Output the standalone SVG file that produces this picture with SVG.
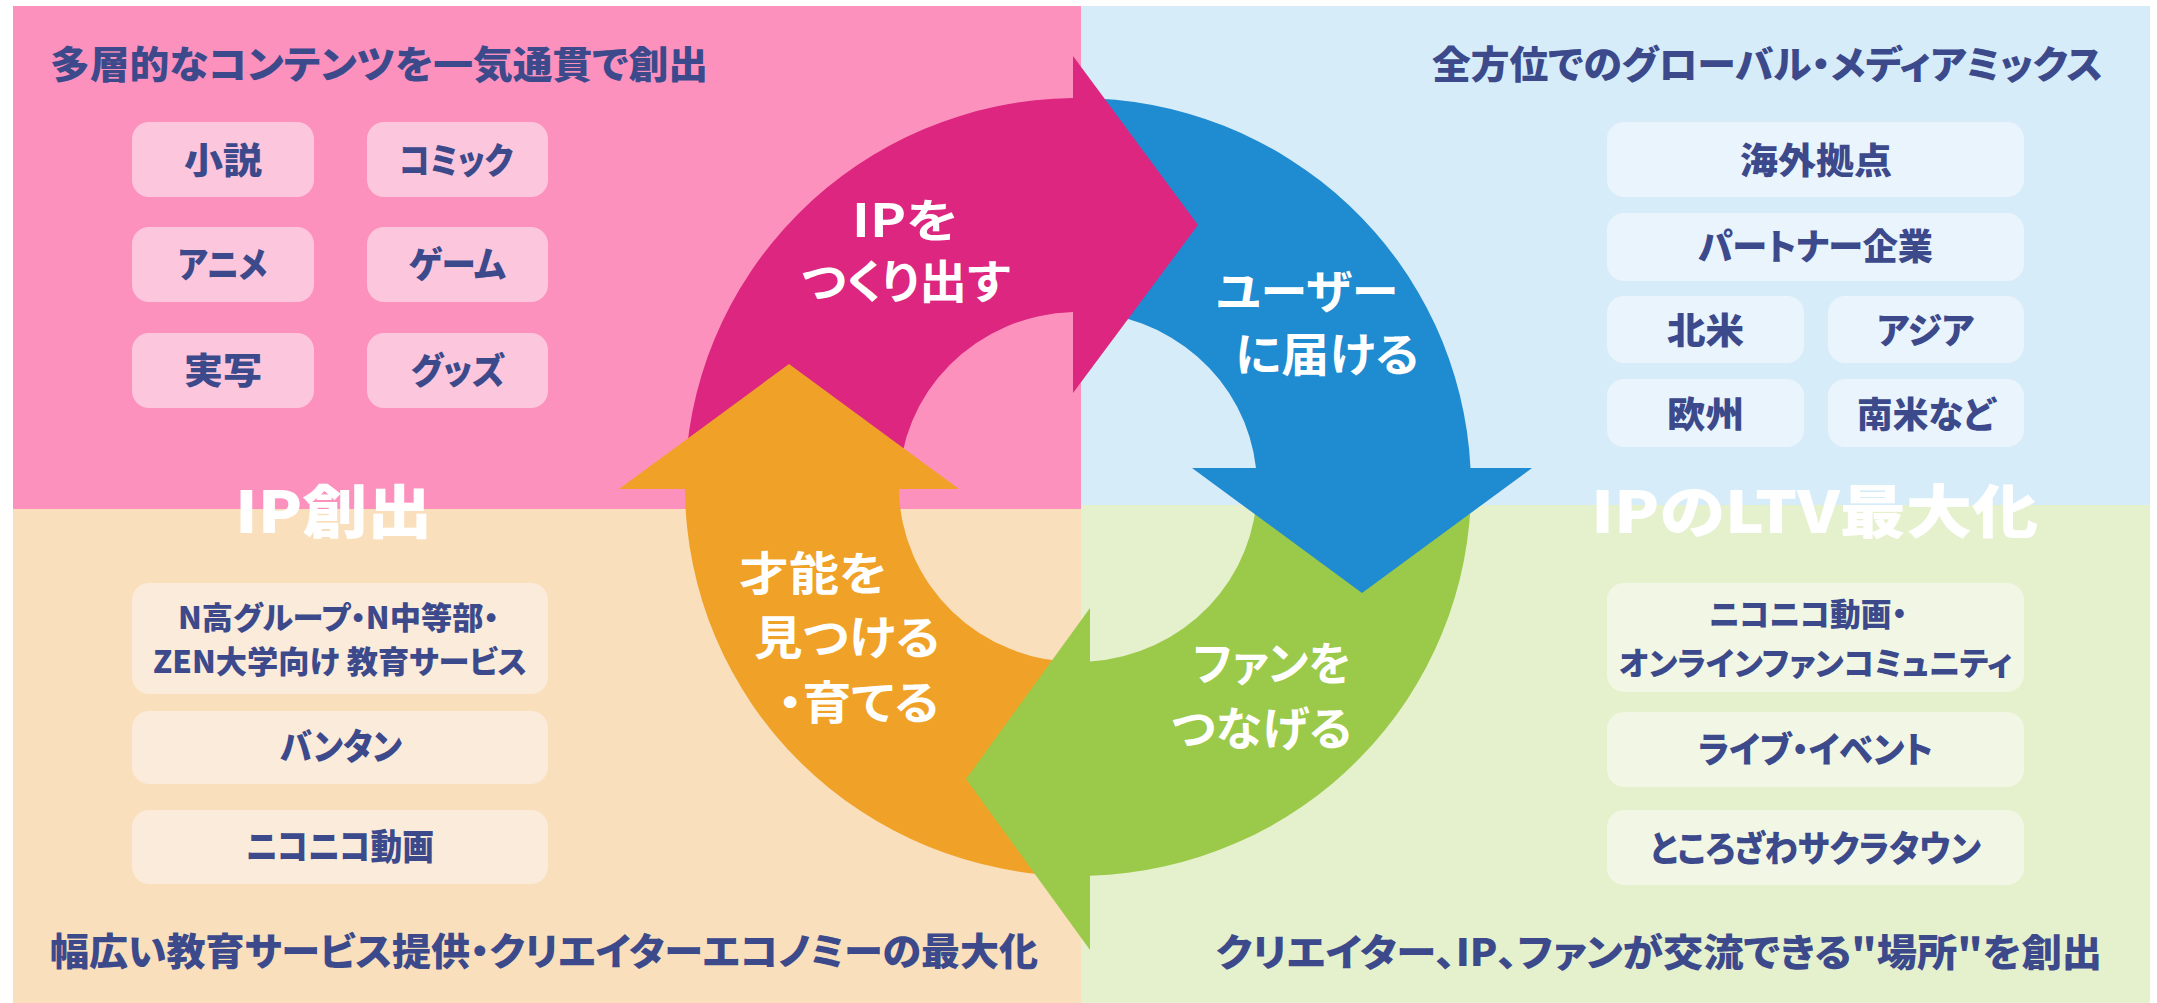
<svg xmlns="http://www.w3.org/2000/svg" width="2157" height="1003" viewBox="0 0 2157 1003">
<style>
.t{font-family:"Noto Sans CJK JP","Noto Sans",sans-serif;font-weight:700;font-feature-settings:"palt";}
.h{font-weight:900;}
.n{fill:#3C4A8C;}
.w{fill:#FFFFFF;}
.bp{fill:#FCC6DC;}
.bb{fill:#EAF4FC;}
.bo{fill:#FBEBDA;}
.bg{fill:#F1F7E4;}
</style>
<rect width="2157" height="1003" fill="#FFFFFF"/>
<g id="quadrants">
<rect x="13" y="6" width="1068" height="503" fill="#FD91BD"/>
<rect x="1081" y="6" width="1069" height="499" fill="#D7ECF9"/>
<rect x="13" y="509" width="1068" height="494" fill="#F9DFBB"/>
<rect x="1081" y="505" width="1069" height="498" fill="#E5F0CD"/>
</g>
<g id="titles" class="t h n" font-size="38">
<text x="50" y="78" textLength="658" lengthAdjust="spacingAndGlyphs">多層的なコンテンツを一気通貫で創出</text>
<text x="1432" y="78" textLength="671" lengthAdjust="spacingAndGlyphs">全方位でのグローバル・メディアミックス</text>
<text x="50" y="965" textLength="988" lengthAdjust="spacingAndGlyphs">幅広い教育サービス提供・クリエイターエコノミーの最大化</text>
<text x="1216" y="966" textLength="886" lengthAdjust="spacingAndGlyphs">クリエイター、IP、ファンが交流できる"場所"を創出</text>
</g>
<g id="section-labels" class="t h w" font-size="58">
<text x="235" y="533" textLength="197" lengthAdjust="spacingAndGlyphs">IP創出</text>
<text x="1591" y="533" textLength="447" lengthAdjust="spacingAndGlyphs">IPのLTV最大化</text>
</g>
<g id="box-novel"><rect class="bp" x="132" y="122" width="182" height="75" rx="17"/><text class="t h n" font-size="36" x="184" y="174" textLength="78" lengthAdjust="spacingAndGlyphs">小説</text></g>
<g id="box-comic"><rect class="bp" x="367" y="122" width="181" height="75" rx="17"/><text class="t h n" font-size="36" x="399" y="174" textLength="114" lengthAdjust="spacingAndGlyphs">コミック</text></g>
<g id="box-anime"><rect class="bp" x="132" y="227" width="182" height="75" rx="17"/><text class="t h n" font-size="36" x="178" y="278" textLength="89" lengthAdjust="spacingAndGlyphs">アニメ</text></g>
<g id="box-game"><rect class="bp" x="367" y="227" width="181" height="75" rx="17"/><text class="t h n" font-size="36" x="409" y="278" textLength="97" lengthAdjust="spacingAndGlyphs">ゲーム</text></g>
<g id="box-live"><rect class="bp" x="132" y="333" width="182" height="75" rx="17"/><text class="t h n" font-size="36" x="184" y="384" textLength="78" lengthAdjust="spacingAndGlyphs">実写</text></g>
<g id="box-goods"><rect class="bp" x="367" y="333" width="181" height="75" rx="17"/><text class="t h n" font-size="36" x="411" y="384" textLength="94" lengthAdjust="spacingAndGlyphs">グッズ</text></g>
<g id="box-overseas"><rect class="bb" x="1607" y="122" width="417" height="75" rx="17"/><text class="t h n" font-size="36" x="1740" y="174" textLength="152" lengthAdjust="spacingAndGlyphs">海外拠点</text></g>
<g id="box-partner"><rect class="bb" x="1607" y="213" width="417" height="68" rx="17"/><text class="t h n" font-size="36" x="1698" y="260" textLength="235" lengthAdjust="spacingAndGlyphs">パートナー企業</text></g>
<g id="box-na"><rect class="bb" x="1607" y="296" width="197" height="67" rx="17"/><text class="t h n" font-size="36" x="1667" y="344" textLength="77" lengthAdjust="spacingAndGlyphs">北米</text></g>
<g id="box-asia"><rect class="bb" x="1828" y="296" width="196" height="67" rx="17"/><text class="t h n" font-size="36" x="1877" y="344" textLength="97" lengthAdjust="spacingAndGlyphs">アジア</text></g>
<g id="box-eu"><rect class="bb" x="1607" y="379" width="197" height="68" rx="17"/><text class="t h n" font-size="36" x="1667" y="428" textLength="77" lengthAdjust="spacingAndGlyphs">欧州</text></g>
<g id="box-sa"><rect class="bb" x="1828" y="379" width="196" height="68" rx="17"/><text class="t h n" font-size="36" x="1857" y="428" textLength="138" lengthAdjust="spacingAndGlyphs">南米など</text></g>
<g id="box-school"><rect class="bo" x="132" y="583" width="416" height="111" rx="17"/>
<text class="t h n" font-size="31" x="178" y="629" textLength="321" lengthAdjust="spacingAndGlyphs">N高グループ・N中等部・</text>
<text class="t h n" font-size="31" x="153" y="673" textLength="374" lengthAdjust="spacingAndGlyphs">ZEN大学向け 教育サービス</text></g>
<g id="box-vantan"><rect class="bo" x="132" y="711" width="416" height="73" rx="17"/><text class="t h n" font-size="36" x="280" y="760" textLength="122" lengthAdjust="spacingAndGlyphs">バンタン</text></g>
<g id="box-niconico"><rect class="bo" x="132" y="810" width="416" height="74" rx="17"/><text class="t h n" font-size="36" x="246" y="860" textLength="188" lengthAdjust="spacingAndGlyphs">ニコニコ動画</text></g>
<g id="box-community"><rect class="bg" x="1607" y="583" width="417" height="109" rx="17"/>
<text class="t h n" font-size="32" x="1709" y="626" textLength="198" lengthAdjust="spacingAndGlyphs">ニコニコ動画・</text>
<text class="t h n" font-size="32" x="1619" y="675" textLength="393" lengthAdjust="spacingAndGlyphs">オンラインファンコミュニティ</text></g>
<g id="box-event"><rect class="bg" x="1607" y="712" width="417" height="75" rx="17"/><text class="t h n" font-size="36" x="1698" y="763" textLength="235" lengthAdjust="spacingAndGlyphs">ライブ・イベント</text></g>
<g id="box-town"><rect class="bg" x="1607" y="810" width="417" height="75" rx="17"/><text class="t h n" font-size="36" x="1650" y="862" textLength="331" lengthAdjust="spacingAndGlyphs">ところざわサクラタウン</text></g>
<g id="cycle">
<path fill="#DC2680" d="M 685 487 A 393 389 0 0 1 1073 98 L 1073 312 A 179 175 0 0 0 899 487 Z"/>
<path fill="#1F8BD0" d="M 1078 98 A 393 389 0 0 1 1470.5 468 L 1256 468 A 179 175 0 0 0 1078 312 Z"/>
<path fill="#9BC949" d="M 1471 487 A 393 389 0 0 1 1090 875.8 L 1090 661.6 A 179 175 0 0 0 1257 487 Z"/>
<path fill="#F0A128" d="M 1078 876 A 393 389 0 0 1 685 489 L 899 489 A 179 175 0 0 0 1078 662 Z"/>
<path fill="#DC2680" d="M 1073 56 L 1198 225 L 1073 393 Z"/>
<path fill="#1F8BD0" d="M 1192 468 L 1532 468 L 1362 593 Z"/>
<path fill="#9BC949" d="M 1090 608 L 1090 950 L 966 779 Z"/>
<path fill="#F0A128" d="M 619 489 L 959 489 L 789 364 Z"/>
</g>
<g id="step-create" class="t w" font-size="46">
<text x="852" y="237" textLength="106" lengthAdjust="spacingAndGlyphs">IPを</text>
<text x="801" y="298" textLength="209" lengthAdjust="spacingAndGlyphs">つくり出す</text>
</g>
<g id="step-deliver" class="t w" font-size="46">
<text x="1216" y="308" textLength="182" lengthAdjust="spacingAndGlyphs">ユーザー</text>
<text x="1235" y="371" textLength="184" lengthAdjust="spacingAndGlyphs">に届ける</text>
</g>
<g id="step-connect" class="t w" font-size="46">
<text x="1193" y="680" textLength="158" lengthAdjust="spacingAndGlyphs">ファンを</text>
<text x="1171" y="745" textLength="181" lengthAdjust="spacingAndGlyphs">つなげる</text>
</g>
<g id="step-talent" class="t w" font-size="46">
<text x="739" y="590" textLength="148" lengthAdjust="spacingAndGlyphs">才能を</text>
<text x="754" y="654" textLength="186" lengthAdjust="spacingAndGlyphs">見つける</text>
<text x="778" y="719" textLength="161" lengthAdjust="spacingAndGlyphs">・育てる</text>
</g>
</svg>
